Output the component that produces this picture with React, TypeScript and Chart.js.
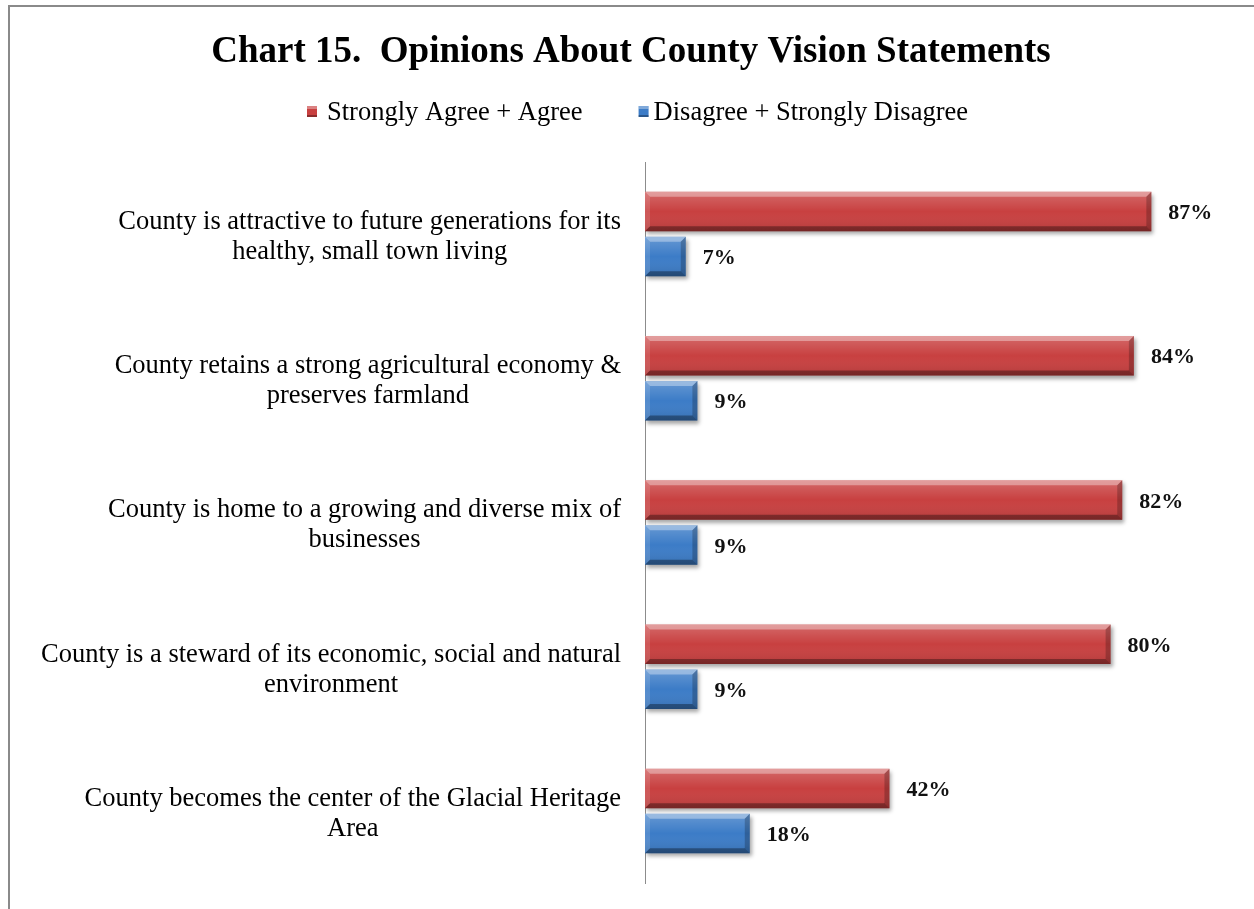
import React, { useEffect, useRef } from "react";
import { Chart, registerables } from "chart.js";

Chart.register(...registerables);

const TITLE = "Chart 15.  Opinions About County Vision Statements";
const CATEGORIES: string[][] = [
  ["County is attractive to future generations for its", "healthy, small town living"],
  ["County retains a strong agricultural economy &", "preserves farmland"],
  ["County is home to a growing and diverse mix of", "businesses"],
  ["County is a steward of its economic, social and natural", "environment"],
  ["County becomes the center of the Glacial Heritage", "Area"],
];
const SERIES_NAMES = ["Strongly Agree + Agree", "Disagree + Strongly Disagree"];
const AGREE = [87, 84, 82, 80, 42];
const DISAGREE = [7, 9, 9, 9, 18];
const X_MIN = 0;
const X_MAX = 100;

const SERIF = '"Liberation Serif", "Times New Roman", serif';
const RED = "#C84040";
const BLUE = "#3C7CC7";
const COLORS = [RED, BLUE];

function poly(ctx: CanvasRenderingContext2D, pts: number[][]) {
  ctx.beginPath();
  ctx.moveTo(pts[0][0], pts[0][1]);
  for (let i = 1; i < pts.length; i++) ctx.lineTo(pts[i][0], pts[i][1]);
  ctx.closePath();
  ctx.fill();
}

const decor = {
  id: "decor",
  beforeDraw(chart: any) {
    const ctx: CanvasRenderingContext2D = chart.ctx;
    ctx.save();
    ctx.fillStyle = "#ffffff";
    ctx.fillRect(0, 0, chart.width, chart.height);
    // outer frame
    ctx.strokeStyle = "#8a8a8a";
    ctx.lineWidth = 2;
    ctx.beginPath();
    ctx.moveTo(9, chart.height + 2);
    ctx.lineTo(9, 6);
    ctx.lineTo(chart.width + 2, 6);
    ctx.stroke();
    // title
    ctx.fillStyle = "#000";
    ctx.font = `bold 37px ${SERIF}`;
    ctx.textAlign = "center";
    ctx.textBaseline = "alphabetic";
    ctx.fillText(TITLE, 631, 62);
    // legend
    ctx.font = `26.5px ${SERIF}`;
    ctx.textAlign = "left";
    let x = 307;
    SERIES_NAMES.forEach((name, i) => {
      const c = COLORS[i];
      ctx.fillStyle = c;
      ctx.fillRect(x, 106, 10, 11);
      ctx.fillStyle = "rgba(255,255,255,0.35)";
      ctx.fillRect(x, 106, 10, 3);
      ctx.fillStyle = "rgba(0,0,0,0.3)";
      ctx.fillRect(x, 115, 10, 2);
      ctx.fillStyle = "#000";
      const tx = x + (i === 0 ? 20 : 15);
      ctx.fillText(name, tx, 120);
      x = tx + ctx.measureText(name).width + 56;
    });
    ctx.restore();
  },
  beforeDatasetsDraw(chart: any) {
    const ctx: CanvasRenderingContext2D = chart.ctx;
    ctx.save();
    ctx.shadowColor = "rgba(0,0,0,0.35)";
    ctx.shadowBlur = 4;
    ctx.shadowOffsetX = 2;
    ctx.shadowOffsetY = 3;
  },
  afterDatasetsDraw(chart: any) {
    const ctx: CanvasRenderingContext2D = chart.ctx;
    ctx.restore();
    ctx.save();
    chart.data.datasets.forEach((ds: any, di: number) => {
      const meta = chart.getDatasetMeta(di);
      meta.data.forEach((el: any, i: number) => {
        const p = el.getProps(["x", "y", "base", "height"], true);
        const left = Math.min(p.base, p.x);
        const right = Math.max(p.base, p.x);
        const top = p.y - p.height / 2;
        const bottom = p.y + p.height / 2;
        const b = 5;
        // face shading
        const g = ctx.createLinearGradient(0, top, 0, bottom);
        g.addColorStop(0, "rgba(255,255,255,0.22)");
        g.addColorStop(0.5, "rgba(255,255,255,0.0)");
        g.addColorStop(1, "rgba(0,0,0,0.12)");
        ctx.fillStyle = g;
        ctx.fillRect(left, top, right - left, bottom - top);
        // bevels
        ctx.fillStyle = "rgba(255,255,255,0.35)";
        poly(ctx, [[left, top], [right, top], [right - b, top + b], [left + b, top + b]]);
        ctx.fillStyle = "rgba(255,255,255,0.12)";
        poly(ctx, [[left, top], [left + b, top + b], [left + b, bottom - b], [left, bottom]]);
        ctx.fillStyle = "rgba(0,0,0,0.33)";
        poly(ctx, [[left, bottom], [left + b, bottom - b], [right - b, bottom - b], [right, bottom]]);
        ctx.fillStyle = "rgba(0,0,0,0.22)";
        poly(ctx, [[right, top], [right, bottom], [right - b, bottom - b], [right - b, top + b]]);
        // value label
        ctx.fillStyle = "#111";
        ctx.font = `bold 22px ${SERIF}`;
        ctx.textAlign = "left";
        ctx.textBaseline = "middle";
        ctx.fillText(`${ds.data[i]}%`, right + 17, p.y + 2);
      });
    });
    // category labels
    const yScale = chart.scales.y;
    ctx.font = `26.5px ${SERIF}`;
    ctx.fillStyle = "#000";
    ctx.textAlign = "center";
    ctx.textBaseline = "middle";
    chart.data.labels.forEach((lab: string[], i: number) => {
      const cy = yScale.getPixelForValue(i) + 3;
      const lines = Array.isArray(lab) ? lab : [lab];
      const w = Math.max(...lines.map((l) => ctx.measureText(l).width));
      const cx = 621 - w / 2;
      lines.forEach((l, j) => {
        ctx.fillText(l, cx, cy + (j - (lines.length - 1) / 2) * 30);
      });
    });
    ctx.restore();
  },
};

export default function App() {
  const ref = useRef<HTMLCanvasElement>(null);
  useEffect(() => {
    if (!ref.current) return;
    const chart = new Chart(ref.current, {
      type: "bar",
      data: {
        labels: CATEGORIES,
        datasets: [
          { label: SERIES_NAMES[0], data: AGREE, backgroundColor: RED, borderWidth: 0 },
          { label: SERIES_NAMES[1], data: DISAGREE, backgroundColor: BLUE, borderWidth: 0 },
        ],
      },
      options: {
        indexAxis: "y",
        responsive: false,
        animation: false,
        categoryPercentage: 0.624,
        barPercentage: 0.878,
        layout: { padding: { top: 162, bottom: 26, left: 0, right: 27 } },
        plugins: {
          legend: { display: false },
          title: { display: false },
          tooltip: { enabled: false },
        },
        scales: {
          x: { display: false, min: X_MIN, max: X_MAX },
          y: {
            display: true,
            ticks: { display: false },
            grid: { display: false },
            border: { display: true, color: "#8c8c8c", width: 1 },
            afterFit: (scale: any) => {
              scale.width = 645;
            },
          },
        },
      },
      plugins: [decor],
    } as any);
    return () => chart.destroy();
  }, []);
  return (
    <div style={{ position: "absolute", left: 0, top: 0, width: 1254, height: 909, overflow: "hidden", background: "#fff" }}>
      <canvas ref={ref} width={1254} height={909} style={{ display: "block" }} />
    </div>
  );
}
